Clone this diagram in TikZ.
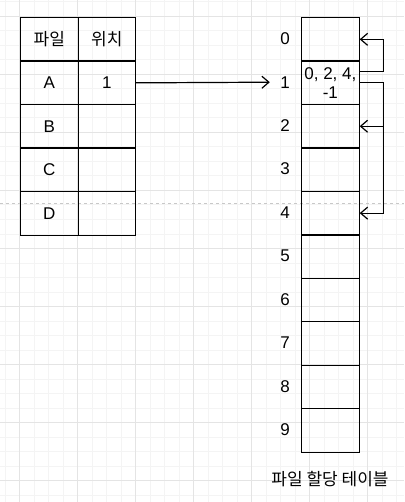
\documentclass[tikz,border=0pt]{standalone}
\usepackage{fontspec}
\setmainfont{Liberation Sans}
\newfontfamily\kr{Noto Sans CJK KR}
\usetikzlibrary{arrows.meta,calc}
\definecolor{gridminor}{HTML}{F4F4F4}
\definecolor{gridmajor}{HTML}{E4E4E4}
\definecolor{pagebreak}{HTML}{C8C8C8}
\tikzset{
  cell/.style={draw=black, line width=1.2pt, minimum width=57.5pt, minimum height=43.5pt, inner sep=0pt, anchor=north west, font=\fontsize{17}{19}\selectfont},
  idx/.style={minimum width=30pt, minimum height=20pt, inner sep=0pt, font=\fontsize{17}{19}\selectfont},
  link/.style={draw=black, line width=1.2pt, -{Straight Barb[length=7pt,width=12pt]}},
  plain/.style={draw=black, line width=1.2pt},
  krtext/.style={font=\kr\fontsize{17}{19}\selectfont},
}
\begin{document}
\begin{tikzpicture}[x=1pt,y=-1pt]
\useasboundingbox (0,0) rectangle (404,502);
\fill[white] (0,0) rectangle (404,502);
% grid
\foreach \i in {0,...,28} {
  \draw[gridminor, line width=0.6pt] ({4.8+14.5*\i},0) -- ({4.8+14.5*\i},502);
}
\foreach \i in {0,...,35} {
  \draw[gridminor, line width=0.6pt] (0,{1.8+14.5*\i}) -- (404,{1.8+14.5*\i});
}
\foreach \i in {0,...,6} {
  \draw[gridmajor, line width=0.6pt] ({19.3+58*\i},0) -- ({19.3+58*\i},502);
}
\foreach \i in {0,...,8} {
  \draw[gridmajor, line width=0.6pt] (0,{16.3+58*\i}) -- (404,{16.3+58*\i});
}
\draw[pagebreak, line width=0.6pt, dash pattern=on 3pt off 3pt] (0,203) -- (404,203);

% left table
\node[cell, krtext] (h1) at (20,17) {파일};
\node[cell, krtext] (h2) at (77.5,17) {위치};
\node[cell] (fa) at (20,60.5) {A};
\node[cell] (pa) at (77.5,60.5) {1};
\node[cell] (fb) at (20,104) {B};
\node[cell] (pb) at (77.5,104) {};
\node[cell] (fc) at (20,147.5) {C};
\node[cell] (pc) at (77.5,147.5) {};
\node[cell] (fd) at (20,191) {D};
\node[cell] (pd) at (77.5,191) {};

% right table
\foreach \k in {0,...,9} {
  \node[idx] (l\k) at (285,{38.75+43.45*\k}) {\k};
}
\node[cell] (c0) at (301,17) {};
\node[cell, align=center] (c1) at (301,60.45) {0, 2, 4,\\-1};
\foreach \k in {2,...,9} {
  \node[cell] (c\k) at (301,{17+43.45*\k}) {};
}
\node[krtext] (cap) at (330,479) {파일 할당 테이블};

% connectors
\draw[link] (pa.east) -- (l1.west);
\coordinate (s0) at ($(c1.east)+(0,-11)$);
\coordinate (t0) at ($(s0)+(24,0)$);
\draw[link] (s0) -- (t0) |- (c0.east);
\coordinate (t1) at ($(c1.east)+(24,0)$);
\draw[plain] (c1.east) -- (t1);
\draw[link] (t1) |- (c2.east);
\draw[link] (t1) |- (c4.east);
\end{tikzpicture}
\end{document}
